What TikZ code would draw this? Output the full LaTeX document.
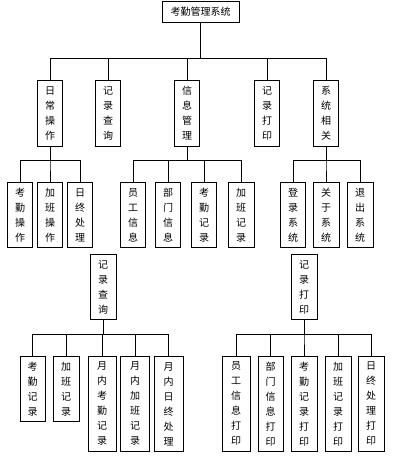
\documentclass[tikz,border=0pt]{standalone}
\usepackage{fontspec}
\newfontfamily\cjk{Noto Sans CJK SC}
\usetikzlibrary{positioning}

\begin{document}
\begin{tikzpicture}[x=1pt, y=-1pt,
  box/.style={draw, line width=0.8pt, anchor=north, minimum width=25pt,
    minimum height=65pt, inner sep=2pt, align=center,
    font=\cjk\fontsize{10}{15}\selectfont},
  tall/.style={box, minimum height=95pt},
  link/.style={line width=0.8pt}]
\useasboundingbox (0,0) rectangle (400,470);
\def\rowa{80}
\def\rowb{182}
\def\rowc{356}

\coordinate (busA) at (0,58);
\coordinate (busB) at (0,160);
\coordinate (busC) at (0,334);

% main system
\node[box, minimum width=77pt, minimum height=21pt] (sys) at (200.5,1) {考勤管理系统};

\node[box, minimum height=66pt] (daily) at (50,\rowa) {日\\常\\操\\作};
\node[box, minimum height=66pt] (query) at (108,\rowa) {记\\录\\查\\询};
\node[box, minimum height=66pt] (info) at (187,\rowa) {信\\息\\管\\理};
\node[box, minimum height=66pt] (print) at (267,\rowa) {记\\录\\打\\印};
\node[box, minimum height=66pt] (sysrel) at (326,\rowa) {系\\统\\相\\关};

\foreach \c in {daily,query,info,print,sysrel}
  \draw[link] (sys.south) -- (sys.south |- busA) -| (\c.north);

% second row
\node[box] (kqop) at (20,\rowb) {考\\勤\\操\\作};
\node[box] (jbop) at (50,\rowb) {加\\班\\操\\作};
\node[box] (dayend) at (80,\rowb) {日\\终\\处\\理};

\node[box] (staff) at (133,\rowb) {员\\工\\信\\息};
\node[box] (dept) at (168,\rowb) {部\\门\\信\\息};
\node[box] (kqrec) at (204,\rowb) {考\\勤\\记\\录};
\node[box, minimum width=26pt] (jbrec) at (241,\rowb) {加\\班\\记\\录};

\node[box] (login) at (293,\rowb) {登\\录\\系\\统};
\node[box, minimum width=26pt] (about) at (326,\rowb) {关\\于\\系\\统};
\node[box, minimum width=26pt] (quit) at (360,\rowb) {退\\出\\系\\统};

\foreach \c in {kqop,jbop,dayend}
  \draw[link] (daily.south) -- (daily.south |- busB) -| (\c.north);
\foreach \c in {staff,dept,kqrec,jbrec}
  \draw[link] (info.south) -- (info.south |- busB) -| (\c.north);
\foreach \c in {login,about,quit}
  \draw[link] (sysrel.south) -- (sysrel.south |- busB) -| (\c.north);

% query and print trees
\node[box, minimum width=26pt] (query2) at (103,254) {记\\录\\查\\询};
\node[box, minimum width=26pt] (print2) at (304,254) {记\\录\\打\\印};

\node[box] (qkq) at (32.5,\rowc) {考\\勤\\记\\录};
\node[box, minimum width=26pt] (qjb) at (66,\rowc) {加\\班\\记\\录};
\node[tall, minimum width=28pt] (qmkq) at (102,\rowc) {月\\内\\考\\勤\\记\\录};
\node[tall, minimum width=29pt] (qmjb) at (135,\rowc) {月\\内\\加\\班\\记\\录};
\node[tall, minimum width=29pt] (qmday) at (168.5,\rowc) {月\\内\\日\\终\\处\\理};

\node[tall, minimum width=28pt] (pstaff) at (236,\rowc) {员\\工\\信\\息\\打\\印};
\node[tall] (pdept) at (270.5,\rowc) {部\\门\\信\\息\\打\\印};
\node[tall, minimum width=26pt] (pkq) at (304,\rowc) {考\\勤\\记\\录\\打\\印};
\node[tall, minimum width=26pt] (pjb) at (338,\rowc) {加\\班\\记\\录\\打\\印};
\node[tall, minimum width=26pt] (pday) at (371,\rowc) {日\\终\\处\\理\\打\\印};

\foreach \c in {qkq,qjb,qmkq,qmjb,qmday}
  \draw[link] (query2.south) -- (query2.south |- busC) -| (\c.north);
\foreach \c in {pstaff,pdept,pkq,pjb,pday}
  \draw[link] (print2.south) -- (print2.south |- busC) -| (\c.north);
\end{tikzpicture}
\end{document}
